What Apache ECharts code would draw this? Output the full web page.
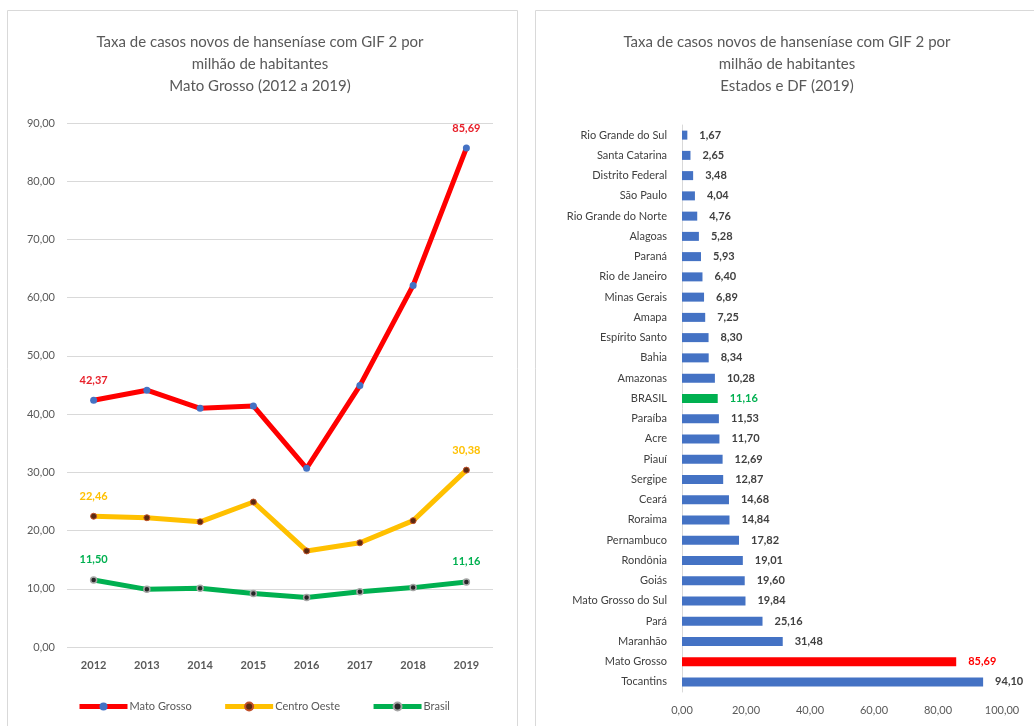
<!DOCTYPE html>
<html>
<head>
<meta charset="utf-8">
<script src="https://cdn.jsdelivr.net/npm/echarts@6/dist/echarts.min.js"></script>
<style>
html,body{margin:0;padding:0;background:#fff;}
#c{width:1034px;height:726px;}
</style>
</head>
<body>
<div id="c"></div>
<script>
// ---- Data: left chart ----
var years = ['2012','2013','2014','2015','2016','2017','2018','2019'];
var matoGrosso = [42.37, 44.1, 41.0, 41.4, 30.7, 44.9, 62.1, 85.69];
var centroOeste = [22.46, 22.2, 21.5, 24.9, 16.5, 17.9, 21.7, 30.38];
var brasil = [11.50, 9.9, 10.1, 9.2, 8.5, 9.5, 10.2, 11.16];
var lineTicksMin = 0, lineTicksMax = 90, lineTicksStep = 10;

// ---- Data: right chart (top to bottom) ----
var states = ['Rio Grande do Sul','Santa Catarina','Distrito Federal','São Paulo','Rio Grande do Norte','Alagoas','Paraná','Rio de Janeiro','Minas Gerais','Amapa','Espírito Santo','Bahia','Amazonas','BRASIL','Paraíba','Acre','Piauí','Sergipe','Ceará','Roraima','Pernambuco','Rondônia','Goiás','Mato Grosso do Sul','Pará','Maranhão','Mato Grosso','Tocantins'];
var stateRates = [1.67,2.65,3.48,4.04,4.76,5.28,5.93,6.40,6.89,7.25,8.30,8.34,10.28,11.16,11.53,11.70,12.69,12.87,14.68,14.84,17.82,19.01,19.60,19.84,25.16,31.48,85.69,94.10];
var barTicksMin = 0, barTicksMax = 100, barTicksStep = 20;

var FONT = 'Lato, "Open Sans", sans-serif';
function br(v){ return v.toFixed(2).replace('.', ','); }

var chart = echarts.init(document.getElementById('c'), null, {renderer:'canvas'});

function lineSeries(name, values, lineColor, sym, labelColor){
  var n = values.length;
  return {
    name: name, type: 'line', xAxisIndex: 0, yAxisIndex: 0,
    symbol: 'circle', symbolSize: sym.size,
    lineStyle: {color: lineColor, width: 5},
    itemStyle: {color: sym.color, borderColor: sym.border, borderWidth: sym.bw},
    data: values.map(function(v,i){
      return {value: v, label: {show: i===0 || i===n-1}};
    }),
    label: {position: 'top', distance: 11, color: labelColor, fontFamily: FONT, fontSize: 11, fontWeight: 'bold',
      formatter: function(p){ return br(p.value); }},
    z: name==='Mato Grosso' ? 5 : 3,
    animation: false
  };
}

var barData = stateRates.map(function(v,i){
  var s = states[i];
  var col = s==='BRASIL' ? '#00B050' : (s==='Mato Grosso' ? '#FF0000' : '#4472C4');
  var lc = s==='BRASIL' ? '#00B050' : (s==='Mato Grosso' ? '#FF0000' : '#404040');
  return {value: v, itemStyle: {color: col}, label: {color: lc}};
});

var titleStyle = {fill:'#595959', font: '15px ' + FONT, textAlign:'center', lineHeight: 22};

chart.setOption({
  animation: false,
  graphic: [
    {type:'rect', shape:{x:7.5,y:10.5,width:510,height:730}, style:{fill:'none', stroke:'#d9d9d9', lineWidth:1}, silent:true},
    {type:'rect', shape:{x:535.5,y:10.5,width:510,height:730}, style:{fill:'none', stroke:'#d9d9d9', lineWidth:1}, silent:true},
    {type:'text', x:260, y:31, style: Object.assign({text:'Taxa de casos novos de hanseníase com GIF 2 por\nmilhão de habitantes\nMato Grosso (2012 a 2019)'}, titleStyle)},
    {type:'text', x:787, y:31, style: Object.assign({text:'Taxa de casos novos de hanseníase com GIF 2 por\nmilhão de habitantes\nEstados e DF (2019)'}, titleStyle)}
  ],
  legend: {
    data: ['Mato Grosso','Centro Oeste','Brasil'],
    left: 72, top: 696, itemWidth: 48, itemHeight: 10, itemGap: 31,
    lineStyle: {width: 5},
    textStyle: {fontFamily: FONT, fontSize: 11, color: '#595959', padding: [0,0,0,-3]}
  },
  grid: [
    {left: 67, right: 541, top: 123, bottom: 79},
    {left: 682, right: 32, top: 125, bottom: 34}
  ],
  xAxis: [
    {type:'category', gridIndex:0, data: years, boundaryGap: true,
      axisLine:{show:false}, axisTick:{show:false},
      axisLabel:{margin: 13, color:'#595959', fontFamily: FONT, fontSize: 11, fontWeight:'bold'}},
    {type:'value', gridIndex:1, min: barTicksMin, max: barTicksMax, interval: barTicksStep,
      splitLine:{show:false}, axisLine:{show:false}, axisTick:{show:false},
      axisLabel:{margin: 13, color:'#595959', fontFamily: FONT, fontSize: 11, formatter: function(v){return br(v);}}}
  ],
  yAxis: [
    {type:'value', gridIndex:0, min: lineTicksMin, max: lineTicksMax, interval: lineTicksStep,
      splitLine:{lineStyle:{color:'#d9d9d9', width:1}}, axisLine:{show:false}, axisTick:{show:false},
      axisLabel:{margin: 12, color:'#595959', fontFamily: FONT, fontSize: 11, formatter: function(v){return br(v);}}},
    {type:'category', gridIndex:1, data: states, inverse: true,
      axisLine:{show:true, lineStyle:{color:'#d9d9d9'}}, axisTick:{show:false},
      axisLabel:{margin: 15, color:'#404040', fontFamily: FONT, fontSize: 11}}
  ],
  series: [
    lineSeries('Mato Grosso', matoGrosso, '#FF0000', {size:7, color:'#4472C4', border:'#4472C4', bw:0}, '#E8202A'),
    lineSeries('Centro Oeste', centroOeste, '#FFC000', {size:6, color:'#5A2A10', border:'#C0502A', bw:1}, '#FFC000'),
    lineSeries('Brasil', brasil, '#00B050', {size:6, color:'#262626', border:'#A5A5A5', bw:1.5}, '#00B050'),
    {type:'bar', xAxisIndex:1, yAxisIndex:1, data: barData, barWidth: 9,
      label:{show:true, position:'right', distance: 12, fontFamily: FONT, fontSize: 11, fontWeight:'bold',
        formatter: function(p){ return br(p.value); }},
      animation:false}
  ]
});
</script>
</body>
</html>
